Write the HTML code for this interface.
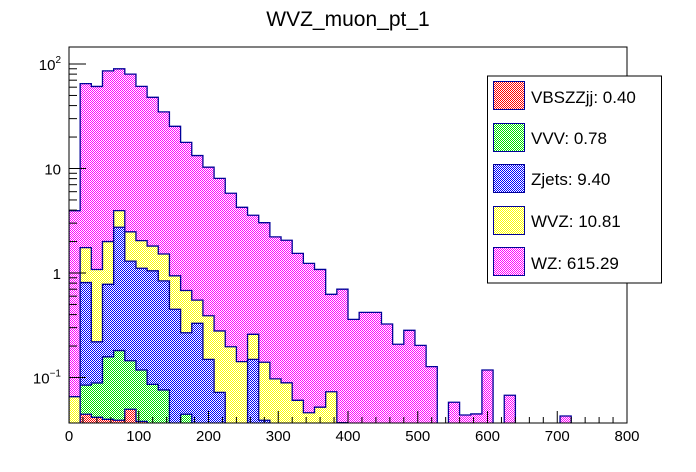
<!DOCTYPE html>
<html><head><meta charset="utf-8"><style>
body{margin:0;background:#fff;}
svg{display:block;font-family:"Liberation Sans",Arial,sans-serif;}
</style></head><body>
<svg id="chart" width="696" height="472" viewBox="0 0 696 472">
<defs>
<pattern id="p-red" width="2" height="2" patternUnits="userSpaceOnUse"><rect width="2" height="2" fill="#fff"/><rect width="1" height="1" fill="#ff0000"/><rect x="1" y="1" width="1" height="1" fill="#ff0000"/></pattern>
<pattern id="p-green" width="2" height="2" patternUnits="userSpaceOnUse"><rect width="2" height="2" fill="#fff"/><rect width="1" height="1" fill="#00e000"/><rect x="1" y="1" width="1" height="1" fill="#00e000"/></pattern>
<pattern id="p-blue" width="2" height="2" patternUnits="userSpaceOnUse"><rect width="2" height="2" fill="#fff"/><rect width="1" height="1" fill="#0000ff"/><rect x="1" y="1" width="1" height="1" fill="#0000ff"/></pattern>
<pattern id="p-yellow" width="2" height="2" patternUnits="userSpaceOnUse"><rect width="2" height="2" fill="#fff"/><rect width="1" height="1" fill="#ffff00"/><rect x="1" y="1" width="1" height="1" fill="#ffff00"/></pattern>
<pattern id="p-mag" width="2" height="2" patternUnits="userSpaceOnUse"><rect width="2" height="2" fill="#fff"/><rect width="1" height="1" fill="#ff00ff"/><rect x="1" y="1" width="1" height="1" fill="#ff00ff"/></pattern>
<clipPath id="frameclip"><rect x="69" y="47" width="558" height="376"/></clipPath>
</defs>
<text x="348" y="26" font-size="21" text-anchor="middle">WVZ_muon_pt_1</text>
<g id="hists" clip-path="url(#frameclip)"></g>
<rect x="69" y="47" width="558" height="376" fill="none" stroke="#000" stroke-width="1"/>
<g id="axes"></g>
<g>
<rect x="487.5" y="76" width="174" height="207" fill="#fff" stroke="#000" stroke-width="1"/>
<rect x="493.5" y="81.5" width="31" height="28" fill="url(#p-red)" stroke="#000099"/>
<text x="531" y="103" font-size="17">VBSZZjj: 0.40</text>
<rect x="493.5" y="123.5" width="31" height="28" fill="url(#p-green)" stroke="#000099"/>
<text x="531" y="144" font-size="17">VVV: 0.78</text>
<rect x="493.5" y="164.5" width="31" height="28" fill="url(#p-blue)" stroke="#000099"/>
<text x="531" y="185" font-size="17">Zjets: 9.40</text>
<rect x="493.5" y="206.5" width="31" height="28" fill="url(#p-yellow)" stroke="#000099"/>
<text x="531" y="227" font-size="17">WVZ: 10.81</text>
<rect x="493.5" y="247.5" width="31" height="28" fill="url(#p-mag)" stroke="#000099"/>
<text x="531" y="269" font-size="17">WZ: 615.29</text>
</g>
</svg>
<script>
const binLow = 0, binWidth = 16, nBins = 50;
const vbszzjj = [0,0.0445,0.0416,0.0398,0.039,0.0497,0.038];
const vvv = [0,0.040,0.047,0.118,0.142,0.095,0.080,0.086,0.076,0,0.0445];
const zjets = [0,0.726,0.131,0.622,2.56,1.155,0.992,0.964,0.764,0.45,0.2235,0.33,0.149,0.072,0,0,0.149,0.039];
const wvz = [0.0655,0.94,0.86,1.22,1.21,1.18,0.93,0.76,0.68,0.49,0.412,0.22,0.241,0.207,0.197,0.142,0.110,0.101,0.097,0.089,0.0605,0.046,0.052,0.073,0.037];
const wz = [3.88,63.2,59.9,84,86,77.5,59,46.2,33.3,24.4,17.1,12.75,9.9,7.77,5.6,4.11,3.31,2.89,2.12,1.97,1.48,1.19,1.03,0.552,0.663,0.36,0.42,0.42,0.325,0.208,0.283,0.203,0.127,0,0.058,0.0438,0.0448,0.118,0,0.0676,0,0,0,0,0.0428,0,0,0,0,0];
const xTickLabels = ["0","100","200","300","400","500","600","700","800"];
const yDecades = [-1,0,1,2];

const NS = "http://www.w3.org/2000/svg";
const X0 = 69, X1 = 627, Y0 = 423, Y1 = 47;
function xs(v){ return X0 + (v - 0) / 800 * (X1 - X0); }
function ys(v){ return 273 - 104.5 * Math.log10(v); }

const series = [vbszzjj, vvv, zjets, wvz, wz];
const pats = ["p-red","p-green","p-blue","p-yellow","p-mag"];
const names = ["hist-vbszzjj","hist-vvv","hist-zjets","hist-wvz","hist-wz"];
// cumulative
const cum = [];
let run = new Array(nBins).fill(0);
series.forEach(s => { run = run.map((r,i) => r + (s[i] || 0)); cum.push(run.slice()); });

const g = document.getElementById('hists');
for (let k = series.length - 1; k >= 0; k--) {
  const c = cum[k];
  let d = "M" + xs(binLow) + "," + (Y0 + 2);
  for (let i = 0; i < nBins; i++) {
    const v = c[i];
    const y = v > 0 ? Math.min(ys(v), Y0 + 2) : Y0 + 2;
    d += " L" + xs(binLow + i * binWidth).toFixed(2) + "," + y.toFixed(2);
    d += " L" + xs(binLow + (i + 1) * binWidth).toFixed(2) + "," + y.toFixed(2);
  }
  d += " L" + xs(binLow + nBins * binWidth) + "," + (Y0 + 2) + " Z";
  const p = document.createElementNS(NS, "path");
  
  
  p.setAttribute("d", d);
  p.setAttribute("fill", "url(#" + pats[k] + ")");
  p.setAttribute("stroke", "#000099");
  p.setAttribute("stroke-width", "1.3");
  g.appendChild(p);
}

const ax = document.getElementById('axes');
function line(x1,y1,x2,y2,name){
  const l = document.createElementNS(NS, "line");
  
  
  l.setAttribute("x1",x1); l.setAttribute("y1",y1); l.setAttribute("x2",x2); l.setAttribute("y2",y2);
  l.setAttribute("stroke","#000"); l.setAttribute("stroke-width","1");
  ax.appendChild(l);
}
function text(x,y,s,name,anchor,size){
  const t = document.createElementNS(NS, "text");
  
  
  t.setAttribute("x",x); t.setAttribute("y",y);
  t.setAttribute("font-size", size || 15);
  t.setAttribute("text-anchor", anchor || "middle");
  t.textContent = s;
  ax.appendChild(t);
  return t;
}
// x ticks
for (let v = 0; v <= 800; v += 20) {
  const major = v % 100 === 0;
  line(xs(v), Y0, xs(v), Y0 - (major ? 12 : 6), major ? "x-major-tick" : "x-minor-tick");
}
xTickLabels.forEach(s => text(xs(+s), 441, s, "x-tick-label"));
// y ticks
yDecades.forEach(e => {
  for (let m = 1; m <= 9; m++) {
    const v = m * Math.pow(10, e);
    const y = ys(v);
    if (y < Y1 || y > Y0) continue;
    line(X0, y, X0 + (m === 1 ? 17 : 8), y, m === 1 ? "y-major-tick" : "y-minor-tick");
  }
  const y = ys(Math.pow(10, e));
  const t = document.createElementNS(NS, "text");
  
  
  t.setAttribute("x", 61); t.setAttribute("y", y + 6);
  t.setAttribute("font-size", 15); t.setAttribute("text-anchor", "end");
  if (e === 0) t.textContent = "1";
  else if (e === 1) t.textContent = "10";
  else {
    t.textContent = "10";
    const sup = document.createElementNS(NS, "tspan");
    sup.setAttribute("font-size", 10); sup.setAttribute("dy", -7);
    sup.textContent = e === 2 ? "2" : "\u22121";
    t.appendChild(sup);
  }
  ax.appendChild(t);
});
</script>
</body></html>
